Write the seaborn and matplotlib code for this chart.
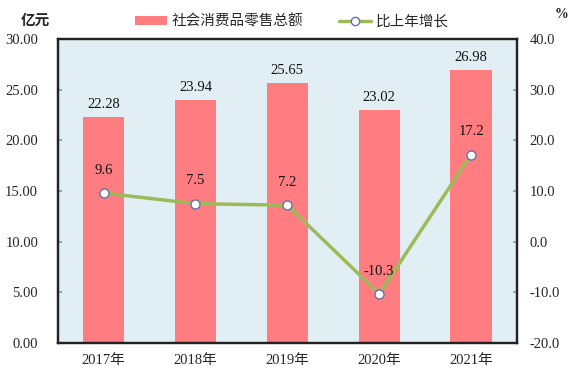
import pandas as pd
import matplotlib.pyplot as plt
import seaborn as sns
from matplotlib.patches import Patch
from matplotlib.lines import Line2D

# Data
years = ['2017年', '2018年', '2019年', '2020年', '2021年']
retail_sales = [22.28, 23.94, 25.65, 23.02, 26.98]
growth_rate = [9.6, 7.5, 7.2, -10.3, 17.2]
left_ticks = [0, 5, 10, 15, 20, 25, 30]
right_ticks = [-20, -10, 0, 10, 20, 30, 40]

sns.set_theme(style="white")
plt.rcParams['font.family'] = ['Liberation Serif', 'Noto Sans CJK SC', 'DejaVu Sans']

bar_color = '#FF7C80'
line_color = '#9BBB59'
bg_color = '#E1EFF5'
fs = 10.5

df = pd.DataFrame({'year': years, 'sales': retail_sales, 'growth': growth_rate})

fig = plt.figure(figsize=(5.72, 3.92), dpi=100)
ax = fig.add_axes([0.1007, 0.125, 0.8033, 0.7755])
ax.set_facecolor(bg_color)

sns.barplot(data=df, x='year', y='sales', color=bar_color, width=0.45,
            saturation=1, linewidth=0, edgecolor='none', ax=ax, zorder=2)
ax.set_xlim(-0.5, 4.5)
ax.set_ylim(0, 30)
ax.set_yticks(left_ticks)
ax.set_yticklabels([f'{v:.2f}' for v in left_ticks], fontsize=fs)
ax.set_xlabel('')
ax.set_ylabel('')
ax.tick_params(axis='x', length=0, labelsize=fs, pad=8)
ax.tick_params(axis='y', direction='in', length=3, color='#999999', pad=14)

for i, v in enumerate(retail_sales):
    ax.text(i, v + 0.6, f'{v:.2f}', ha='center', va='bottom', fontsize=fs, color='#111111')

ax2 = ax.twinx()
sns.lineplot(x=list(range(len(years))), y=growth_rate, ax=ax2, color=line_color,
             linewidth=2.5, marker='o', markersize=6.5, markerfacecolor='white',
             markeredgecolor='#6670B0', markeredgewidth=1, zorder=3)
ax2.set_ylim(-20, 40)
ax2.set_yticks(right_ticks)
ax2.set_yticklabels([f'{v:.1f}' for v in right_ticks], fontsize=fs)
ax2.tick_params(axis='y', direction='in', length=3, color='#999999', pad=9)
ax2.set_xlim(-0.5, 4.5)

for i, v in enumerate(growth_rate):
    ax2.text(i, v + 3.2, f'{v:.1f}', ha='center', va='bottom', fontsize=fs, color='#111111')

for spine in list(ax.spines.values()) + list(ax2.spines.values()):
    spine.set_color('#222222')
    spine.set_linewidth(1.6)

# Unit labels
fig.text(0.062, 0.945, '亿元', ha='center', va='center', fontsize=10.5, fontweight='bold')
fig.text(0.982, 0.962, '%', ha='center', va='center', fontsize=10, fontweight='bold')

# Legend
handles = [Patch(facecolor=bar_color, edgecolor='none'),
           Line2D([0], [0], color=line_color, linewidth=2.5, marker='o', markersize=6,
                  markerfacecolor='white', markeredgecolor='#6670B0', markeredgewidth=1)]
fig.legend(handles, ['社会消费品零售总额', '比上年增长'], loc='center',
           bbox_to_anchor=(0.51, 0.945), ncol=2, frameon=False, fontsize=10.5,
           handlelength=2.2, handleheight=0.6, columnspacing=2.5, handletextpad=0.3)

plt.savefig('out.png', dpi=100)
